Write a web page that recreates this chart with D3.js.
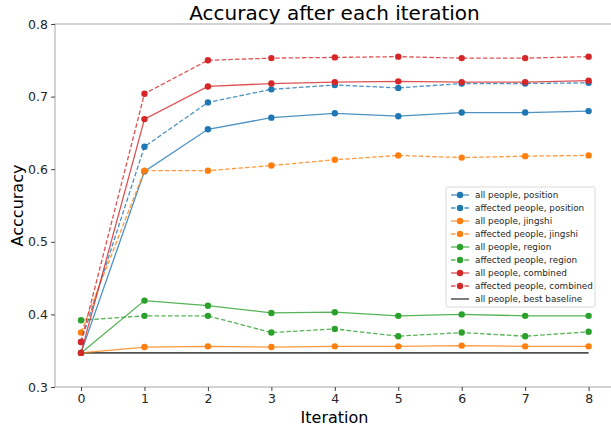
<!DOCTYPE html>
<html>
<head>
<meta charset="utf-8">
<script src="https://cdn.jsdelivr.net/npm/d3@7"></script>
<style>
  body { margin: 0; background: #fff; }
  text { font-family: "DejaVu Sans", sans-serif; }
</style>
</head>
<body>
<script>
// data
const iterations = [0, 1, 2, 3, 4, 5, 6, 7, 8];
const allPosition      = [0.347, 0.597, 0.655, 0.671, 0.677, 0.673, 0.678, 0.678, 0.680];
const affPosition      = [0.362, 0.631, 0.692, 0.710, 0.716, 0.712, 0.718, 0.718, 0.719];
const allJingshi       = [0.347, 0.355, 0.356, 0.355, 0.356, 0.356, 0.357, 0.356, 0.356];
const affJingshi       = [0.375, 0.598, 0.598, 0.605, 0.613, 0.619, 0.616, 0.618, 0.619];
const allRegion        = [0.347, 0.419, 0.412, 0.402, 0.403, 0.398, 0.400, 0.398, 0.398];
const affRegion        = [0.392, 0.398, 0.398, 0.375, 0.380, 0.370, 0.375, 0.370, 0.376];
const allCombined      = [0.347, 0.669, 0.714, 0.718, 0.720, 0.721, 0.720, 0.720, 0.722];
const affCombined      = [0.362, 0.704, 0.750, 0.753, 0.754, 0.755, 0.753, 0.753, 0.755];
const bestBaseline     = [0.347, 0.347, 0.347, 0.347, 0.347, 0.347, 0.347, 0.347, 0.347];
const yTicks = [0.3, 0.4, 0.5, 0.6, 0.7, 0.8];

const series = [
  {name: "all people, position", vals: allPosition, color: "#1f77b4", dash: false},
  {name: "affected people, position", vals: affPosition, color: "#1f77b4", dash: true},
  {name: "all people, jingshi", vals: allJingshi, color: "#ff7f0e", dash: false},
  {name: "affected people, jingshi", vals: affJingshi, color: "#ff7f0e", dash: true},
  {name: "all people, region", vals: allRegion, color: "#2ca02c", dash: false},
  {name: "affected people, region", vals: affRegion, color: "#2ca02c", dash: true},
  {name: "all people, combined", vals: allCombined, color: "#d62728", dash: false},
  {name: "affected people, combined", vals: affCombined, color: "#d62728", dash: true}
];

const W = 611, H = 426;
const mLeft = 55, mTop = 24, mRight = 614, mBottom = 387;

let svg = d3.select("body").append("svg")
  .attr("width", W)
  .attr("height", H);

const x = d3.scaleLinear().domain([-0.41, 8.4]).range([mLeft, mRight]);
const y = d3.scaleLinear().domain([0.3, 0.8]).range([mBottom, mTop]);

// frame
svg.append("rect")
  .attr("x", mLeft).attr("y", mTop)
  .attr("width", mRight - mLeft).attr("height", mBottom - mTop)
  .attr("fill", "none")
  .attr("stroke", "#b5b5b5")
  .attr("stroke-width", 1.2);

// axes
const yAxis = svg.append("g")
  .attr("transform", `translate(${mLeft},0)`)
  .call(d3.axisLeft(y).tickValues(yTicks).tickFormat(d3.format(".1f")).tickSize(4).tickPadding(3));
const xAxis = svg.append("g")
  .attr("transform", `translate(0,${mBottom})`)
  .call(d3.axisBottom(x).tickValues(iterations).tickFormat(d3.format("d")).tickSize(4).tickPadding(3));
[yAxis, xAxis].forEach(g => {
  g.select(".domain").remove();
  g.selectAll(".tick line").attr("stroke", "#444").attr("stroke-width", 1);
  g.selectAll(".tick text")
    .attr("fill", "#262626")
    .attr("font-size", "12.5px")
    .attr("font-family", "DejaVu Sans, sans-serif");
});

const line = d3.line()
  .x((d, i) => x(iterations[i]))
  .y(d => y(d));

// best baseline
svg.append("path")
  .attr("d", line(bestBaseline))
  .attr("fill", "none")
  .attr("stroke", "#333")
  .attr("stroke-opacity", 0.85)
  .attr("stroke-width", 1.6);

series.forEach(s => {
  svg.append("path")
    .attr("d", line(s.vals))
    .attr("fill", "none")
    .attr("stroke", s.color)
    .attr("stroke-opacity", 0.8)
    .attr("stroke-width", 1.3)
    .attr("stroke-dasharray", s.dash ? "4.5,2.2" : null);
  svg.selectAll(null)
    .data(s.vals)
    .enter()
    .append("circle")
      .attr("cx", (d, i) => x(iterations[i]))
      .attr("cy", d => y(d))
      .attr("r", 3.2)
      .attr("fill", s.color);
});

// title and labels
svg.append("text")
  .attr("x", (mLeft + mRight) / 2)
  .attr("y", 20)
  .attr("text-anchor", "middle")
  .attr("font-size", "20px")
  .attr("fill", "black")
  .text("Accuracy after each iteration");

svg.append("text")
  .attr("x", (mLeft + mRight) / 2)
  .attr("y", 423)
  .attr("text-anchor", "middle")
  .attr("font-size", "16px")
  .attr("fill", "black")
  .text("Iteration");

svg.append("text")
  .attr("text-anchor", "middle")
  .attr("font-size", "16px")
  .attr("fill", "black")
  .attr("transform", `translate(23,${(mTop + mBottom) / 2}) rotate(-90)`)
  .text("Acccuracy");

// legend
const legendItems = series.concat([{name: "all people, best baseline", color: "#333", dash: false, baseline: true}]);
const lg = svg.append("g");
lg.append("rect")
  .attr("x", 446).attr("y", 187)
  .attr("width", 149).attr("height", 120)
  .attr("rx", 2)
  .attr("fill", "white")
  .attr("fill-opacity", 0.85)
  .attr("stroke", "#d0d0d0")
  .attr("stroke-width", 0.8);
const rows = lg.selectAll("g.row")
  .data(legendItems)
  .enter()
  .append("g")
  .attr("transform", (d, i) => `translate(0,${195 + i * 13})`);
rows.append("line")
  .attr("x1", 451).attr("x2", 469)
  .attr("y1", 0).attr("y2", 0)
  .attr("stroke", d => d.color)
  .attr("stroke-opacity", 0.8)
  .attr("stroke-width", d => d.baseline ? 1.6 : 1.3)
  .attr("stroke-dasharray", d => d.dash ? "4.5,2.2" : null);
rows.filter(d => !d.baseline)
  .append("circle")
  .attr("cx", 460).attr("cy", 0).attr("r", 3.2)
  .attr("fill", d => d.color);
rows.append("text")
  .attr("x", 475)
  .attr("y", 3.2)
  .attr("font-size", "8.8px")
  .attr("fill", "#262626")
  .text(d => d.name);
</script>
</body>
</html>
